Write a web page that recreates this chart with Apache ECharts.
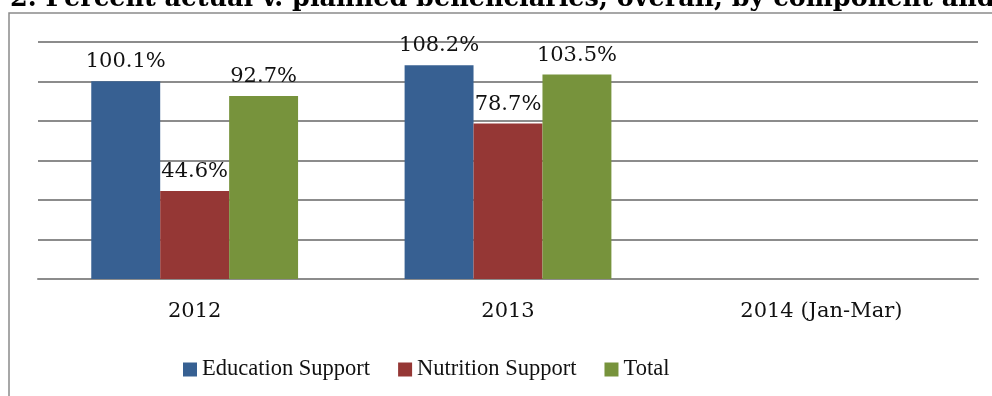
<!DOCTYPE html>
<html>
<head>
<meta charset="utf-8">
<script src="https://cdn.jsdelivr.net/npm/echarts@6/dist/echarts.min.js"></script>
<style>
html,body{margin:0;padding:0;background:#fff;}
#chart{width:992px;height:396px;}
</style>
</head>
<body>
<div id="chart"></div>
<script>
const categories = ['2012', '2013', '2014 (Jan-Mar)'];
const educationSupport = [100.1, 108.2, null];
const nutritionSupport = [44.6, 78.7, null];
const totalValues = [92.7, 103.5, null];
const seriesNames = ['Education Support', 'Nutrition Support', 'Total'];
const titleText = 'Figure 2. Percent actual v. planned beneficiaries, overall, by component and year';

const titleFont = 'bold 25.5px "DejaVu Serif"';
const cv = document.createElement('canvas').getContext('2d');
cv.font = titleFont;
const prefixW = cv.measureText('Figure ').width;

const chart = echarts.init(document.getElementById('chart'), null, {renderer: 'canvas'});
const colors = ['#376092', '#953735', '#77933C'];
const labelStyle = {
  show: true, position: 'top', distance: 9,
  fontFamily: 'DejaVu Serif', fontSize: 21, color: '#111',
  formatter: p => p.value == null ? '' : p.value.toFixed(1) + '%'
};
function mk(name, data, i) {
  return {
    name, type: 'bar', data, barGap: 0, barCategoryGap: '34%',
    itemStyle: {color: colors[i]}, label: labelStyle, z: 3
  };
}
chart.setOption({
  animation: false,
  color: colors,
  graphic: [
    {type: 'rect', shape: {x: 9, y: 13, width: 1200, height: 600},
     style: {fill: 'none', stroke: '#8a8a8a', lineWidth: 1.5}, z: 0},
    {type: 'text', x: 10 - prefixW, y: 12,
     style: {text: titleText, font: titleFont, fill: '#000', textVerticalAlign: 'bottom', textBaseline: 'bottom'}, z: 5}
  ],
  grid: {left: 38, right: 14, top: 42, bottom: 117},
  legend: {
    data: seriesNames, left: 183, top: 358, padding: 0,
    itemWidth: 14, itemHeight: 14, itemGap: 28, icon: 'rect',
    textStyle: {fontFamily: 'Liberation Serif', fontSize: 22.5, color: '#111'}
  },
  xAxis: {
    type: 'category', data: categories,
    axisTick: {show: false},
    axisLine: {lineStyle: {color: '#8c8c8c', width: 2}},
    axisLabel: {fontFamily: 'DejaVu Serif', fontSize: 21, color: '#111', margin: 22}
  },
  yAxis: {
    type: 'value', min: 0, max: 120, interval: 20,
    axisLabel: {show: false}, axisLine: {show: false}, axisTick: {show: false},
    splitLine: {lineStyle: {color: '#8c8c8c', width: 2}}
  },
  series: [
    mk(seriesNames[0], educationSupport, 0),
    mk(seriesNames[1], nutritionSupport, 1),
    mk(seriesNames[2], totalValues, 2)
  ]
});
</script>
</body>
</html>
